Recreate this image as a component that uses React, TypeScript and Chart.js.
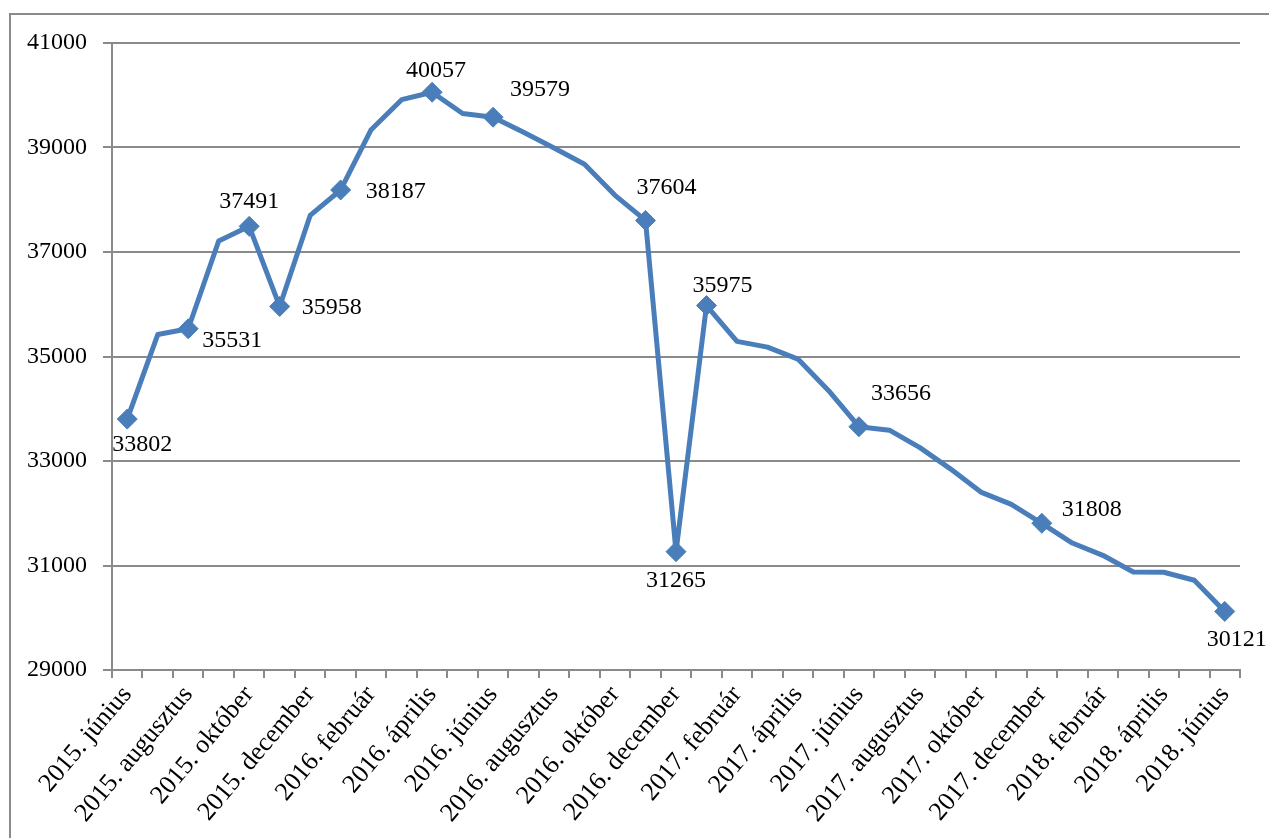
import React, { useEffect, useRef } from 'react';
import { Chart, registerables } from 'chart.js';
Chart.register(...registerables);

const categories: string[] = [
  '2015. június', '2015. július', '2015. augusztus', '2015. szeptember', '2015. október', '2015. november', '2015. december',
  '2016. január', '2016. február', '2016. március', '2016. április', '2016. május', '2016. június', '2016. július',
  '2016. augusztus', '2016. szeptember', '2016. október', '2016. november', '2016. december',
  '2017. január', '2017. február', '2017. március', '2017. április', '2017. május', '2017. június', '2017. július',
  '2017. augusztus', '2017. szeptember', '2017. október', '2017. november', '2017. december',
  '2018. január', '2018. február', '2018. március', '2018. április', '2018. május', '2018. június',
];

const values: number[] = [
  33802, 35420, 35531, 37210, 37491, 35958, 37700,
  38187, 39340, 39915, 40057, 39650, 39579, 39290,
  38990, 38680, 38085, 37604, 31265,
  35975, 35290, 35180, 34950, 34350, 33656, 33590,
  33256, 32850, 32405, 32170, 31808,
  31430, 31195, 30876, 30870, 30717, 30121,
];

const labelledIndices: number[] = [0, 2, 4, 5, 7, 10, 12, 17, 18, 19, 24, 30, 36];

const yTickValues: number[] = [29000, 31000, 33000, 35000, 37000, 39000, 41000];

// label placement offsets (pixels) relative to the marker, same order as labelledIndices
const labelOffsets: [number, number][] = [
  [15, 26], [44, 12], [0, -25], [52, 1], [55, 2], [4, -22], [47, -28],
  [21, -33], [0, 29], [16, -20], [42, -33], [50, -14], [12, 28],
];

const BLUE = '#4A7EBB';
const GRID = '#8a8a8a';
const FONT = "'Liberation Serif', 'DejaVu Serif', serif";

export default function App() {
  const ref = useRef<HTMLCanvasElement | null>(null);

  useEffect(() => {
    if (!ref.current) return;
    const framePlugin = {
      id: 'frame',
      beforeDraw(chart: any) {
        const ctx = chart.ctx;
        ctx.save();
        ctx.strokeStyle = GRID;
        ctx.lineWidth = 2;
        ctx.beginPath();
        ctx.moveTo(10, chart.height);
        ctx.lineTo(10, 14);
        ctx.lineTo(chart.width, 14);
        ctx.stroke();
        ctx.restore();
      },
    };
    const labelPlugin = {
      id: 'pointLabels',
      afterDatasetsDraw(chart: any) {
        const ctx = chart.ctx;
        const meta = chart.getDatasetMeta(0);
        ctx.save();
        ctx.font = `24px ${FONT}`;
        ctx.fillStyle = '#000';
        ctx.textAlign = 'center';
        ctx.textBaseline = 'middle';
        labelledIndices.forEach((idx, k) => {
          const el = meta.data[idx];
          const [dx, dy] = labelOffsets[k];
          ctx.fillText(String(values[idx]), el.x + dx, el.y + dy);
        });
        ctx.restore();
      },
    };

    const radii = values.map((_, i) => (labelledIndices.includes(i) ? 10 : 0));

    const chart = new Chart(ref.current, {
      type: 'line',
      data: {
        labels: categories,
        datasets: [
          {
            data: values,
            borderColor: BLUE,
            backgroundColor: BLUE,
            borderWidth: 5,
            tension: 0,
            pointStyle: 'rectRot',
            pointRadius: radii,
            pointHoverRadius: radii,
            pointBackgroundColor: BLUE,
            pointBorderColor: BLUE,
            pointBorderWidth: 1,
            borderJoinStyle: 'round',
          },
        ],
      },
      options: {
        animation: false,
        responsive: false,
        devicePixelRatio: 1,
        layout: { padding: { left: 0, top: 43, right: 29, bottom: 0 } },
        plugins: {
          legend: { display: false },
          tooltip: { enabled: false },
        },
        scales: {
          x: {
            type: 'category',
            offset: true,
            grid: {
              display: true,
              drawOnChartArea: false,
              drawTicks: true,
              tickLength: 8,
              color: GRID,
              lineWidth: 2,
              offset: true,
            },
            border: { display: true, color: GRID, width: 2 },
            ticks: {
              autoSkip: false,
              minRotation: 50,
              maxRotation: 50,
              padding: 2,
              color: '#000',
              font: { family: FONT, size: 26 },
              callback: (_v: any, idx: number) => (idx % 2 === 0 ? categories[idx] : ''),
            },
            afterFit(scale: any) {
              scale.height = 168;
              scale.paddingLeft = 0;
              scale.paddingRight = 0;
            },
          },
          y: {
            min: 29000,
            max: 41000,
            afterBuildTicks(scale: any) {
              scale.ticks = yTickValues.map((v) => ({ value: v }));
            },
            grid: {
              color: GRID,
              lineWidth: 2,
              drawTicks: true,
              tickLength: 9,
            },
            border: { display: true, color: GRID, width: 2 },
            ticks: {
              padding: 16,
              color: '#000',
              font: { family: FONT, size: 24 },
              callback: (v: any) => String(v),
            },
            afterFit(scale: any) {
              scale.width = 112;
              scale.paddingTop = 0;
              scale.paddingBottom = 0;
            },
          },
        },
      },
      plugins: [framePlugin, labelPlugin],
    } as any);
    return () => chart.destroy();
  }, []);

  return (
    <div style={{ position: 'fixed', left: 0, top: 0, width: 1269, height: 838, background: '#fff' }}>
      <canvas ref={ref} width={1269} height={838} style={{ display: 'block', width: 1269, height: 838 }} />
    </div>
  );
}
